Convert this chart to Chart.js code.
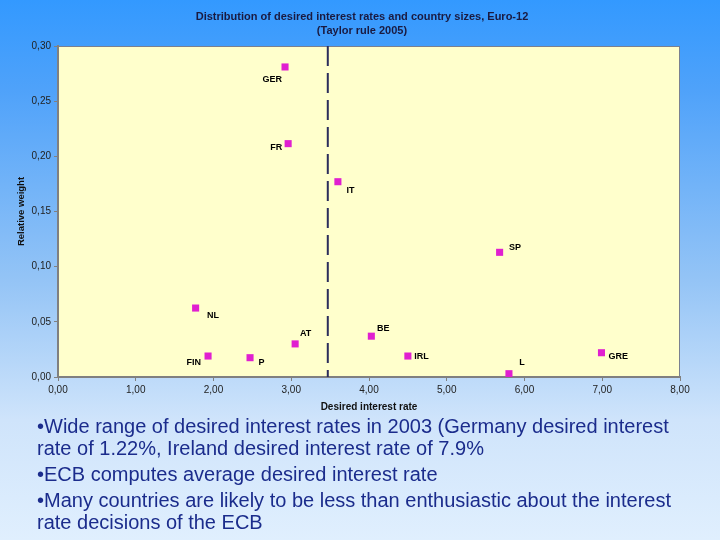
<!DOCTYPE html>
<html>
<head>
<meta charset="utf-8">
<script src="https://cdn.jsdelivr.net/npm/chart.js@4.4.1/dist/chart.umd.min.js"></script>
<style>
  html, body { margin:0; padding:0; width:720px; height:540px; overflow:hidden; }
  body { background: linear-gradient(to bottom, #3399ff 0px, #4fa2fa 90px, #94c4f6 280px, #cfe4fb 420px, #e0effe 540px); position:relative; font-family: "Liberation Sans", Arial, sans-serif; }
  #wrap { position:absolute; left:0; top:0; width:720px; height:540px; }
  #title { position:absolute; left:162px; top:9px; width:400px; text-align:center; color:#1a1a40; font-weight:bold; font-size:11px; line-height:14px; white-space:nowrap; }
  #notes { position:absolute; left:37px; top:415px; width:683px; color:#1b2c8c; font-size:20px; line-height:22px; white-space:nowrap; }
  #notes p { margin:0 0 4px 0; }
</style>
</head>
<body>
<div id="wrap"><canvas id="c" width="720" height="540"></canvas></div>
<div id="title"></div>
<div id="notes">
  <p>•Wide range of desired interest rates in 2003 (Germany desired interest<br>rate of 1.22%, Ireland desired interest rate of 7.9%</p>
  <p>•ECB computes average desired interest rate</p>
  <p>•Many countries are likely to be less than enthusiastic about the interest<br>rate decisions of the ECB</p>
</div>
<script>
// ---- data ----
const countries   = ['GER','FR','IT','NL','FIN','P','AT','BE','IRL','SP','GRE','L'];
const desiredRate = [2.92, 2.96, 3.60, 1.77, 1.93, 2.47, 3.05, 4.03, 4.50, 5.68, 6.99, 5.80];
const relWeight   = [0.281, 0.2115, 0.177, 0.0625, 0.019, 0.0175, 0.030, 0.037, 0.019, 0.113, 0.022, 0.003];
const ecbRate     = 3.47;
const xRange      = [0, 8];
const yRange      = [0, 0.30];
const titleLines  = ['Distribution of desired interest rates and country sizes, Euro-12', '(Taylor rule 2005)'];
const xTitle      = 'Desired interest rate';
const yTitle      = 'Relative weight';

document.getElementById('title').innerHTML = titleLines.map(t => t.replace(/&/g,'&amp;').replace(/</g,'&lt;')).join('<br>');

// ---- label placement (pixel offsets, style only) ----
const labelOffsets = {
  GER:[-12.7,12.6], FR:[-11.8,4.3], IT:[12.5,9], NL:[17.5,7.3], FIN:[-14.2,6.5], P:[11.5,4.8],
  AT:[10.5,-9.9], BE:[12,-7.3], IRL:[13.7,0], SP:[15.3,-5.3], GRE:[16.9,3.3], L:[13,-11]
};

const points = desiredRate.map((x,i)=>({x:x, y:relWeight[i]}));
const fmt = v => Number(v).toFixed(2).replace('.', ',');
const FONT = '"Liberation Sans", Arial, sans-serif';

const plotBg = {
  id:'plotBg',
  beforeDraw(chart){
    const {ctx, chartArea:a} = chart;
    ctx.save();
    ctx.fillStyle = '#ffffcc';
    ctx.fillRect(a.left, a.top, a.right-a.left, a.bottom-a.top);
    ctx.strokeStyle = '#7a8090';
    ctx.lineWidth = 1;
    ctx.strokeRect(a.left+0.5, a.top+0.5, a.right-a.left-1, a.bottom-a.top);
    ctx.restore();
  }
};

const pointLabels = {
  id:'pointLabels',
  afterDatasetsDraw(chart){
    const {ctx} = chart;
    const meta = chart.getDatasetMeta(1);
    ctx.save();
    ctx.font = 'bold 9px ' + FONT;
    ctx.fillStyle = '#000000';
    ctx.textAlign = 'center';
    ctx.textBaseline = 'middle';
    meta.data.forEach((el,i)=>{
      const name = countries[i];
      const o = labelOffsets[name] || [10,0];
      ctx.fillText(name, el.x + o[0], el.y + o[1]);
    });
    ctx.restore();
  }
};

new Chart(document.getElementById('c'), {
  type:'scatter',
  data:{
    datasets:[
      {
        type:'line',
        label:'ECB',
        data:[{x:ecbRate, y:yRange[1]}, {x:ecbRate, y:yRange[0]}],
        borderColor:'#2b2d5c',
        borderWidth:2,
        borderDash:[20,7],
        pointRadius:0,
        fill:false
      },
      {
        label:'Countries',
        data:points,
        pointStyle:'rect',
        pointRadius:5,
        pointHoverRadius:5,
        backgroundColor:'#e01fd0',
        borderColor:'#e01fd0',
        borderWidth:0
      }
    ]
  },
  options:{
    responsive:false,
    animation:false,
    events:[],
    layout:{ padding:{ left:16, right:40, top:46, bottom:127 } },
    plugins:{
      legend:{ display:false },
      tooltip:{ enabled:false },
      title:{ display:false }
    },
    scales:{
      x:{
        type:'linear',
        min:xRange[0], max:xRange[1],
        afterFit(s){ s.height = 36; },
        ticks:{ stepSize:1, callback:v=>fmt(v), color:'#222', font:{ family:FONT, size:10 }, padding:3, maxRotation:0 },
        grid:{ drawOnChartArea:false, drawTicks:true, tickLength:4, color:'#808080' },
        border:{ display:true, color:'#808080', width:2 },
        title:{ display:true, text:xTitle, color:'#111', font:{ family:FONT, size:10, weight:'bold', lineHeight:1.1 }, padding:0 }
      },
      y:{
        type:'linear',
        min:yRange[0], max:yRange[1],
        afterFit(s){ s.width = 42; },
        ticks:{ stepSize:0.05, callback:v=>fmt(v), color:'#222', font:{ family:FONT, size:10 }, padding:3 },
        grid:{ drawOnChartArea:false, drawTicks:true, tickLength:4, color:'#808080' },
        border:{ display:true, color:'#808080', width:2 },
        title:{ display:true, text:yTitle, color:'#111', font:{ family:FONT, size:9.5, weight:'bold' }, padding:0 }
      }
    }
  },
  plugins:[plotBg, pointLabels]
});
</script>
</body>
</html>
